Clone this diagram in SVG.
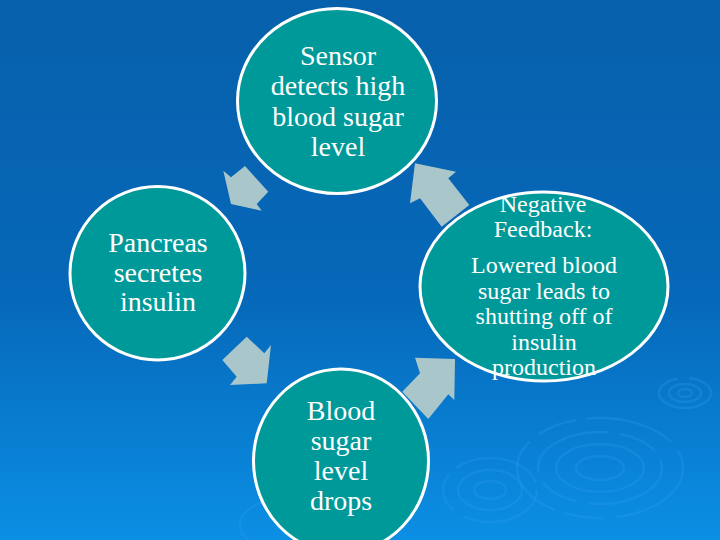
<svg xmlns="http://www.w3.org/2000/svg" width="720" height="540" viewBox="0 0 720 540">
  <defs>
    <linearGradient id="bg" x1="0" y1="0" x2="0" y2="1">
      <stop offset="0" stop-color="#0760AB"/>
      <stop offset="0.55" stop-color="#0668B9"/>
      <stop offset="1" stop-color="#0B8FE4"/>
    </linearGradient>
    <style>
      .node { fill: #009999; stroke: #FFFFFF; stroke-width: 3; }
      .arrow { fill: #A9C6CB; stroke: none; }
      .lbl { font-family: "Liberation Serif", "Times New Roman", serif; fill: #FFFFFF; text-anchor: middle; }
      .big { font-size: 28px; }
      .small { font-size: 24px; }
      .rip { fill: none; stroke: #2A9AF0; stroke-width: 2.5; opacity: 0.3; }
      .gap { stroke-dasharray: 90 12 40 10; }
    </style>
  </defs>
  <rect x="0" y="0" width="720" height="540" fill="url(#bg)"/>
  <g id="ripples">
    <ellipse class="rip gap" cx="600" cy="468" rx="83" ry="50"/>
    <ellipse class="rip gap" cx="600" cy="468" rx="62" ry="36"/>
    <ellipse class="rip" cx="600" cy="468" rx="44" ry="24"/>
    <ellipse class="rip" cx="600" cy="468" rx="24" ry="12"/>
    <ellipse class="rip gap" cx="490" cy="490" rx="47" ry="32"/>
    <ellipse class="rip" cx="490" cy="490" rx="32" ry="20"/>
    <ellipse class="rip" cx="490" cy="490" rx="16" ry="9"/>
    <ellipse class="rip gap" cx="685" cy="393" rx="26" ry="15"/>
    <ellipse class="rip" cx="685" cy="393" rx="16" ry="9"/>
    <ellipse class="rip" cx="685" cy="393" rx="7" ry="4"/>
    <ellipse class="rip" cx="300" cy="525" rx="60" ry="30" opacity="0.18"/>
  </g>
  <g id="connectors">
    <polygon class="arrow" points="223.3,170.7 231,177.3 245,166 268.3,191.7 256.7,204 261.7,210.7 231,204"/>
    <polygon class="arrow" points="415,163.3 456,171.7 448.3,178.3 469.3,205 441.7,226.7 420,198.3 410,203.3"/>
    <polygon class="arrow" points="222.3,360 246.7,336.7 264.3,353.3 271,345 266.7,383.3 230,385 236.7,376.7"/>
    <polygon class="arrow" points="455,359 454.3,400 448.3,394.3 428.3,419 402.3,391.7 420,373.3 415,357.7"/>
  </g>
  <g id="sensor">
    <ellipse class="node" cx="337" cy="101" rx="99.5" ry="92.5"/>
    <text class="lbl big" x="338" y="65">Sensor</text>
    <text class="lbl big" x="338" y="95.3">detects high</text>
    <text class="lbl big" x="338" y="125.6">blood sugar</text>
    <text class="lbl big" x="338" y="156">level</text>
  </g>
  <g id="pancreas">
    <ellipse class="node" cx="157.5" cy="273.3" rx="87.5" ry="86.7"/>
    <text class="lbl big" x="158" y="252">Pancreas</text>
    <text class="lbl big" x="158" y="282">secretes</text>
    <text class="lbl big" x="158" y="311">insulin</text>
  </g>
  <g id="feedback">
    <ellipse class="node" cx="544" cy="286.5" rx="124" ry="94.5"/>
    <text class="lbl small" x="543" y="212">Negative</text>
    <text class="lbl small" x="543" y="237">Feedback:</text>
    <text class="lbl small" x="544" y="273">Lowered blood</text>
    <text class="lbl small" x="544" y="298.5">sugar leads to</text>
    <text class="lbl small" x="544" y="324">shutting off of</text>
    <text class="lbl small" x="544" y="349.5">insulin</text>
    <text class="lbl small" x="544" y="375">production</text>
  </g>
  <g id="blood">
    <ellipse class="node" cx="341" cy="461" rx="87.5" ry="92"/>
    <text class="lbl big" x="341" y="420">Blood</text>
    <text class="lbl big" x="341" y="450">sugar</text>
    <text class="lbl big" x="341" y="480">level</text>
    <text class="lbl big" x="341" y="510">drops</text>
  </g>
</svg>
